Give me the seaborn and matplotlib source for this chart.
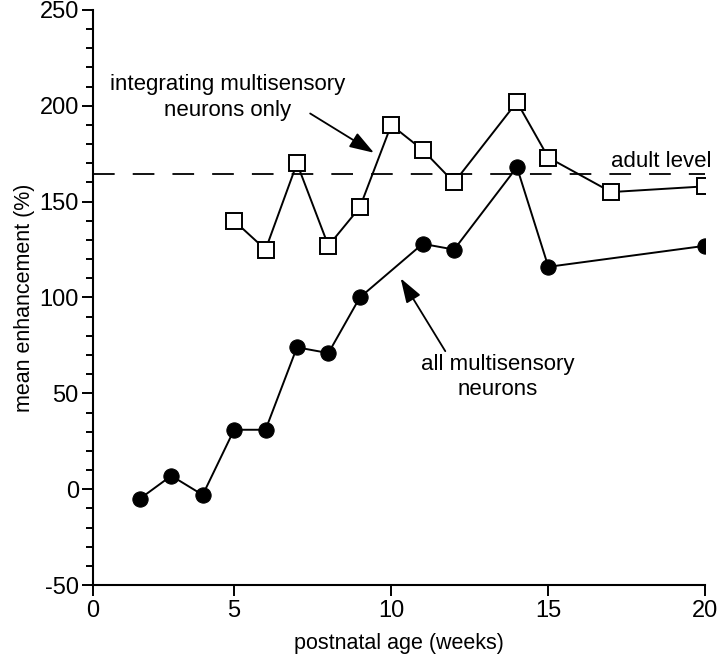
import pandas as pd
import seaborn as sns
import matplotlib.pyplot as plt

# ---------------------------------------------------------
# DATA
# ---------------------------------------------------------
all_weeks = [2, 3, 4, 5, 6, 7, 8, 9, 11, 12, 14, 15, 20]
all_enh = [-5, 7, -3, 31, 31, 74, 71, 100, 128, 125, 168, 116, 127]

integ_weeks = [5, 6, 7, 8, 9, 10, 11, 12, 14, 15, 17, 20]
integ_enh = [140, 125, 170, 127, 147, 190, 177, 160, 202, 173, 155, 158]

adult_level = 164.5

x_ticks = [0.5, 5, 10, 15, 20]
x_tick_labels = ['0', '5', '10', '15', '20']

# ---------------------------------------------------------
# STYLE
# ---------------------------------------------------------
sns.set_theme(style="ticks", rc={'text.color': 'black',
                                 'axes.labelcolor': 'black',
                                 'xtick.color': 'black',
                                 'ytick.color': 'black'})
plt.rcParams['font.family'] = ['Liberation Sans', 'DejaVu Sans']
plt.rcParams['axes.unicode_minus'] = False

fig = plt.figure(figsize=(7.2, 6.56), dpi=100)
ax = fig.add_axes([0.1288, 0.1082, 0.851, 0.8766])

# ---------------------------------------------------------
# PLOT
# ---------------------------------------------------------
df_all = pd.DataFrame({'week': all_weeks, 'enh': all_enh})
df_int = pd.DataFrame({'week': integ_weeks, 'enh': integ_enh})

sns.lineplot(data=df_all, x='week', y='enh', ax=ax, color='black', lw=1.4,
             marker='o', markersize=11, markerfacecolor='black',
             markeredgecolor='black', zorder=3)
sns.lineplot(data=df_int, x='week', y='enh', ax=ax, color='black', lw=1.4,
             marker='s', markersize=11, markerfacecolor='white',
             markeredgecolor='black', markeredgewidth=1.4, zorder=3)

ax.plot([0.5, 20], [adult_level, adult_level], color='black', lw=1.3,
        dashes=(12, 10), zorder=2)

# ---------------------------------------------------------
# ANNOTATIONS
# ---------------------------------------------------------
ax.text(20.2, 165.5, 'adult level', ha='right', va='bottom', fontsize=16)

ax.text(4.8, 204.5, 'integrating multisensory\nneurons only', ha='center',
        va='center', fontsize=16, linespacing=1.3)
ax.text(13.4, 58.5, 'all multisensory\nneurons', ha='center',
        va='center', fontsize=16, linespacing=1.3)

arrow_style = dict(arrowstyle='-|>,head_length=1.5,head_width=0.5',
                   color='black', lw=1.3, shrinkA=0, shrinkB=0,
                   mutation_scale=10)
ax.annotate('', xy=(9.45, 175.5), xytext=(7.42, 196), arrowprops=arrow_style)
ax.annotate('', xy=(10.3, 110), xytext=(11.72, 72), arrowprops=arrow_style)

# ---------------------------------------------------------
# AXES
# ---------------------------------------------------------
ax.set_xlim(0.5, 20)
ax.set_ylim(-50, 250)
ax.set_xticks(x_ticks)
ax.set_xticklabels(x_tick_labels)
ax.set_yticks(range(-50, 251, 50))
ax.set_yticks(range(-50, 251, 10), minor=True)
ax.tick_params(axis='both', which='major', length=8, width=1.4,
               labelsize=17, color='black', direction='out')
ax.tick_params(axis='y', which='minor', length=5, width=1.4,
               color='black', direction='out')
ax.tick_params(axis='x', which='major', pad=3)
ax.tick_params(axis='y', which='major', pad=2)

for side in ['top', 'right']:
    ax.spines[side].set_visible(False)
for side in ['left', 'bottom']:
    ax.spines[side].set_linewidth(1.5)
    ax.spines[side].set_color('black')

ax.set_xlabel('postnatal age (weeks)', fontsize=15.5, labelpad=8)
ax.set_ylabel('mean enhancement (%)', fontsize=15.5, labelpad=3)

fig.savefig('out.png', dpi=100, facecolor='white')
